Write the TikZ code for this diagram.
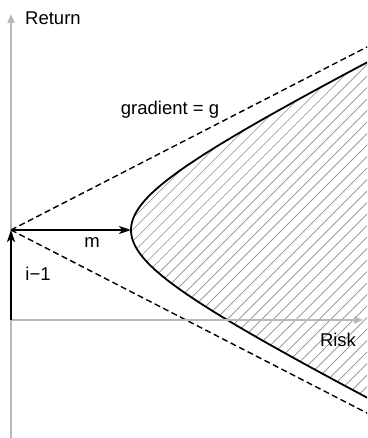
\documentclass[tikz,border=0pt]{standalone}
\usepackage{fontspec}
\setmainfont{Liberation Sans}
\usetikzlibrary{arrows.meta}
\begin{document}
\begin{tikzpicture}[x=1pt,y=-1pt,
  axis/.style={draw=black!28,line width=1.8pt,-{Triangle[length=9pt,width=7pt]}},
  vec/.style={draw=black,line width=1.8pt,-{Stealth[length=12pt,width=8pt,inset=3pt]}},
  asym/.style={draw=black,line width=1.4pt,dash pattern=on 6pt off 3.5pt},
  curve/.style={draw=black,line width=1.8pt},
  hatch/.style={draw=black!45,line width=0.7pt},
  lbl/.style={font=\fontsize{18.5}{21}\selectfont,inner sep=0pt}]
\useasboundingbox (0,0) rectangle (367,438);
\coordinate (O) at (11,320);
\coordinate (P) at (11,230);
\coordinate (V) at (131,230);
\coordinate (Ybot) at (11,438);
\coordinate (Ytop) at (11,14);
\coordinate (Xend) at (363,320);
\coordinate (Up) at (400,30);
\coordinate (Lo) at (400,430);
\begin{scope}
  \clip (0,0) rectangle (367,438);
  \begin{scope}
    \clip plot[domain=-2.2:2.2,samples=120] ({11+120*cosh(\x)},{230+60*sinh(\x)}) -- (700,700) -- (700,-300) -- cycle;
    \foreach \k in {-40,...,40} \draw[hatch] (\k*11.5+5,438) -- ++(450,-450);
  \end{scope}
  \draw[curve] plot[domain=-2.2:2.2,samples=120] ({11+120*cosh(\x)},{230+60*sinh(\x)});
  \draw[asym] (P) -- (Up);
  \draw[asym] (P) -- (Lo);
\end{scope}
\draw[axis] (Ybot) -- (Ytop);
\draw[axis] (O) -- (Xend);
\draw[vec] (O) -- (P);
\draw[vec] (P) -- (V);
\node[lbl,anchor=west] (ret) at (25,18) {Return};
\node[lbl] (grad) at (170,110) {gradient = g};
\node[lbl] (m) at (92,243) {m};
\node[lbl] (im) at (38,274) {i−1};
\node[lbl] (risk) at (338,340) {Risk};
\end{tikzpicture}
\end{document}
